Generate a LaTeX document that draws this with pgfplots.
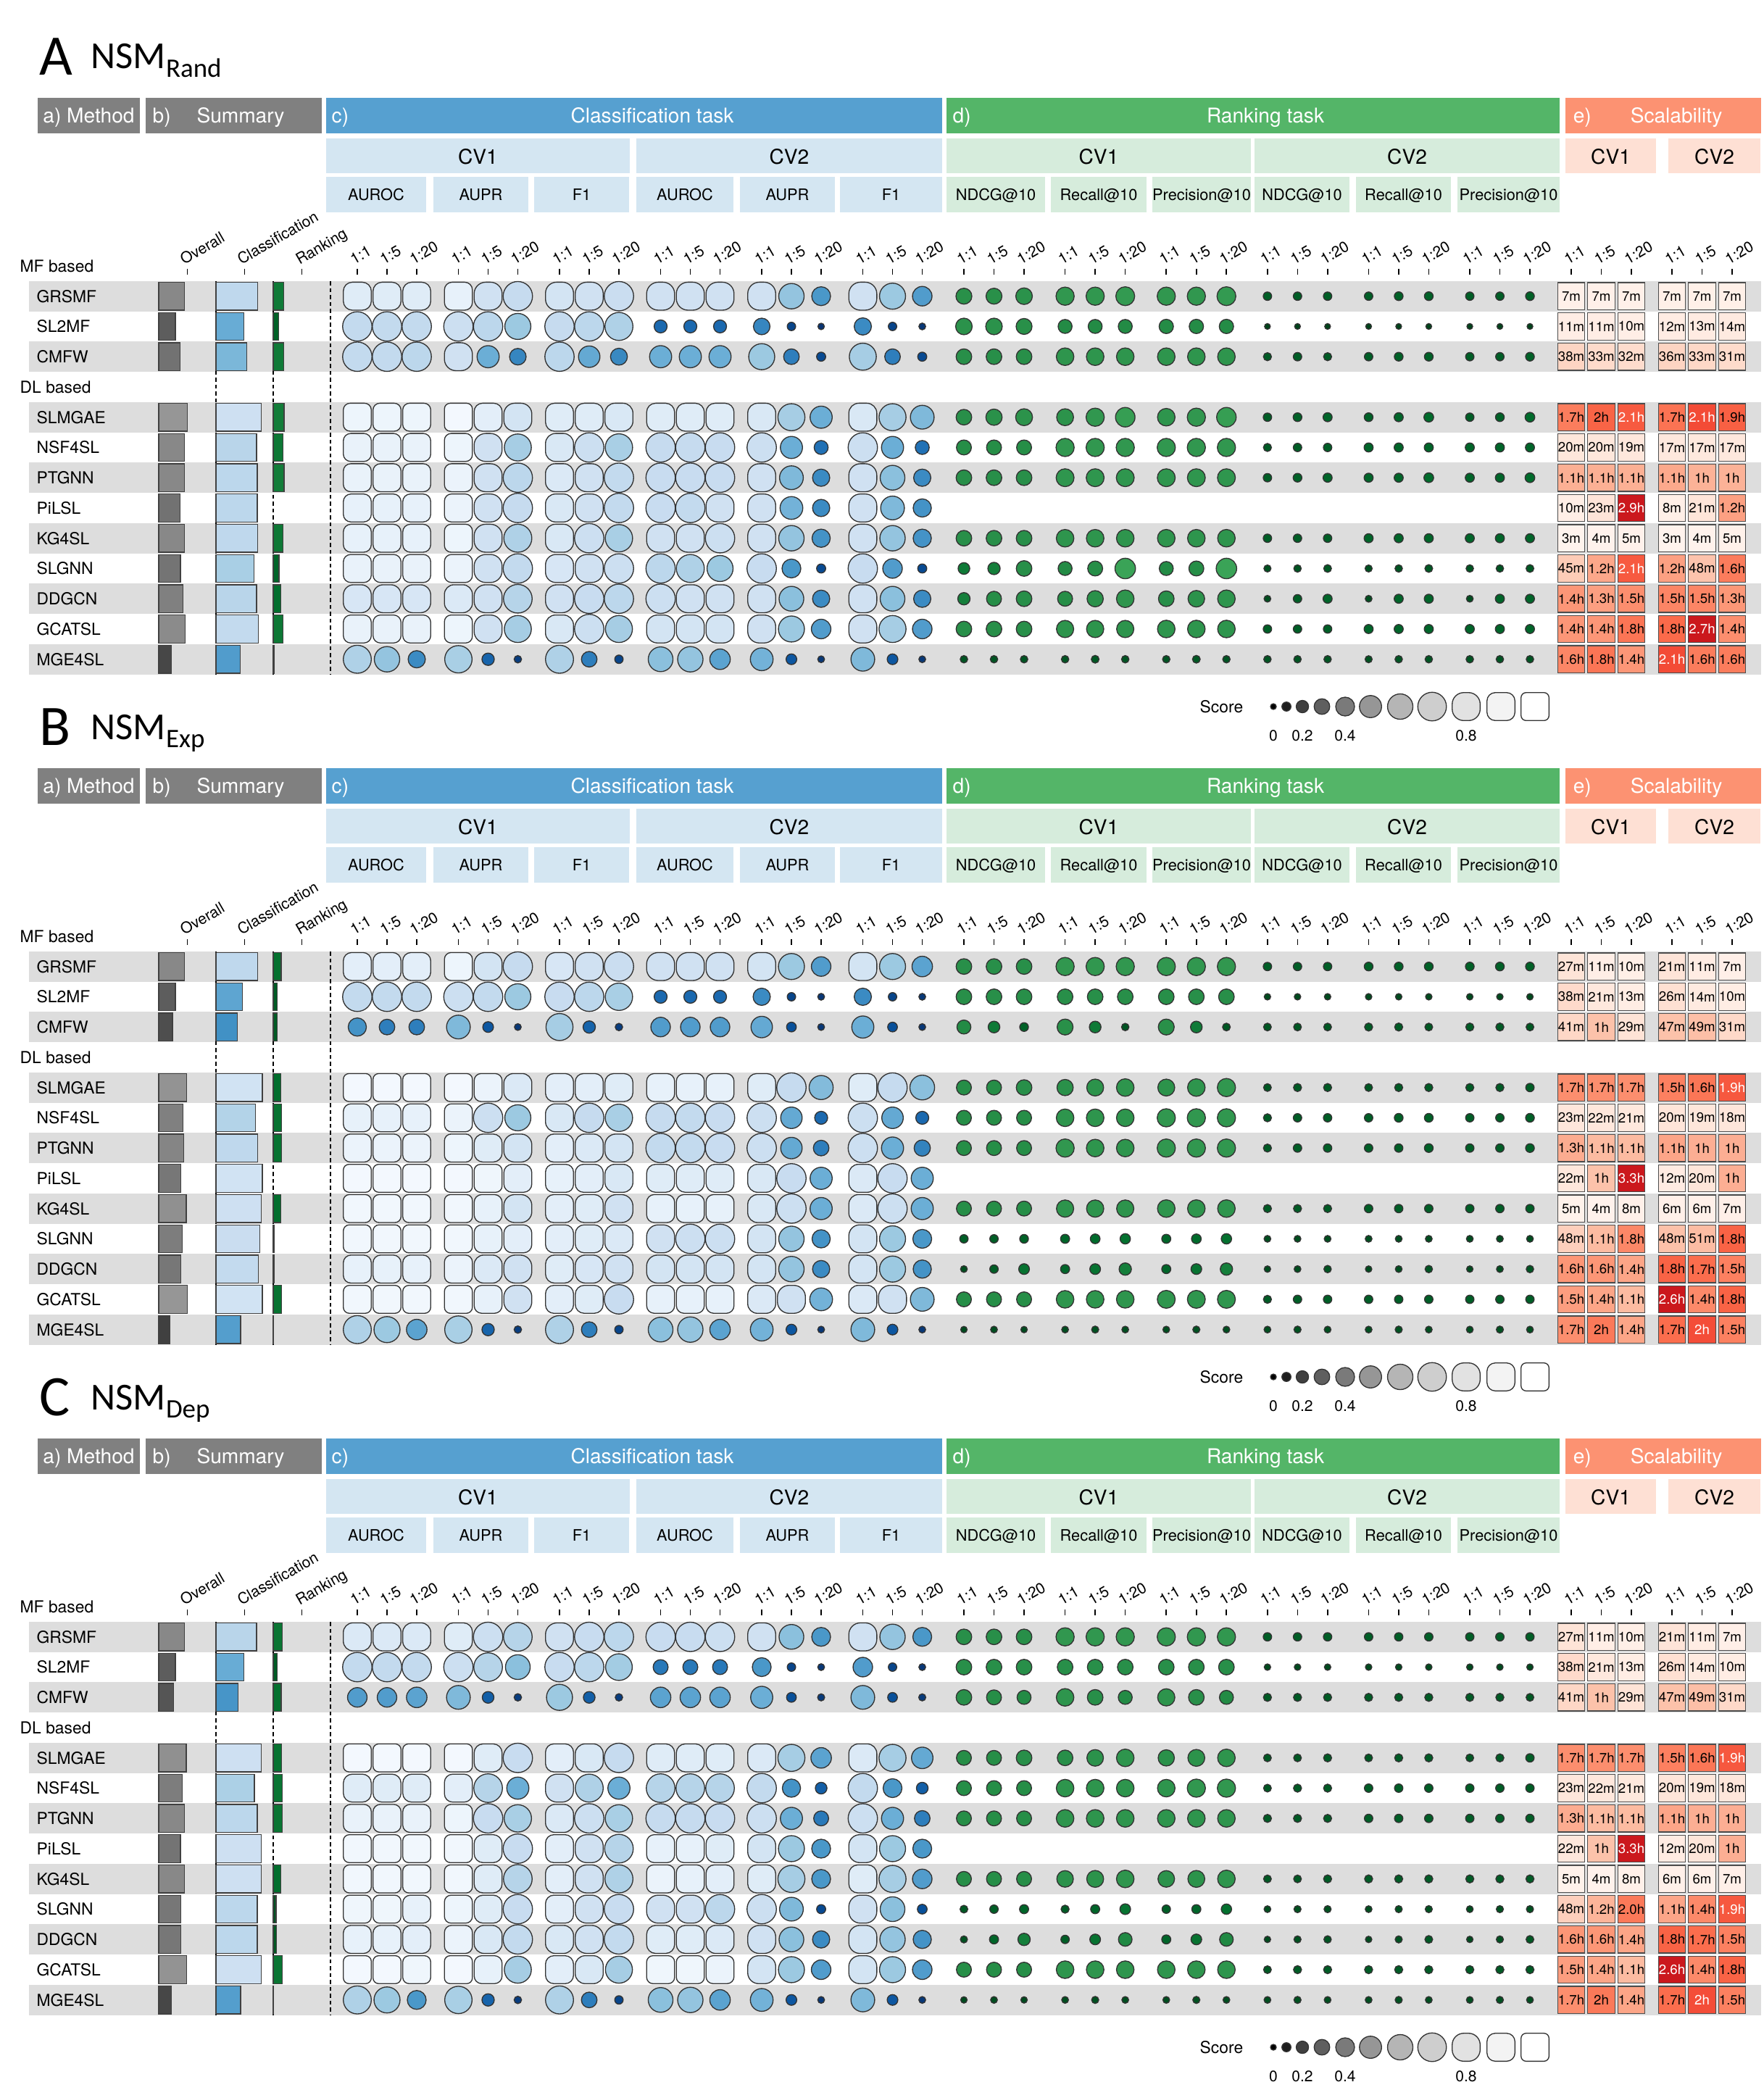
\documentclass[border=0pt]{standalone}
\usepackage{pgfplots}
\usepackage{pgfplotstable}
\pgfplotsset{compat=1.18}
\usepackage{fontspec}
\setmainfont{TeX Gyre Heros}
\newfontfamily\titlefont{Carlito}

\definecolor{hdgrey}{RGB}{128,128,128}
\definecolor{hdblue}{RGB}{86,160,208}
\definecolor{ltblue}{RGB}{212,230,242}
\definecolor{hdgreen}{RGB}{84,181,104}
\definecolor{ltgreen}{RGB}{214,236,220}
\definecolor{hdred}{RGB}{252,146,114}
\definecolor{ltred}{RGB}{254,224,212}
\definecolor{stripe}{RGB}{221,221,221}
\protected\def\W#1{\textcolor{white}{#1}}

\newcommand\hdfont{\fontsize{8}{9}\selectfont}
\newcommand\cvfont{\fontsize{8}{9}\selectfont}
\newcommand\metfont{\fontsize{6.2}{7}\selectfont}
\newcommand\rowfont{\fontsize{6.5}{7}\selectfont}
\newcommand\colfont{\fontsize{6}{7}\selectfont}

\tikzset{
  hd/.style={anchor=base,text=white,font=\hdfont,inner sep=0pt},
  cv/.style={anchor=base,font=\cvfont,inner sep=0pt},
  met/.style={anchor=base,font=\metfont,inner sep=0pt},
  rowlab/.style={anchor=base west,font=\rowfont,inner sep=0pt},
  collab/.style={rotate=30,anchor=base west,font=\colfont,inner sep=0pt},
  leglab/.style={anchor=base,font=\colfont,inner sep=0pt},
  tickl/.style={line width=0.45pt},
  dashl/.style={line width=0.55pt,dash pattern=on 0.55mm off 0.4mm},
}

\pgfplotsset{
  colormap={blues}{rgb255=(8,48,107) rgb255=(8,81,156) rgb255=(33,113,181) rgb255=(66,146,198) rgb255=(107,174,214) rgb255=(158,202,225) rgb255=(198,219,239) rgb255=(222,235,247) rgb255=(247,251,255)},
  colormap={greens}{rgb255=(0,68,27) rgb255=(0,109,44) rgb255=(35,139,69) rgb255=(48,150,78) rgb255=(65,171,93) rgb255=(116,196,118) rgb255=(161,217,155) rgb255=(199,233,192) rgb255=(247,252,245)},
  colormap={greys}{rgb255=(0,0,0) rgb255=(37,37,37) rgb255=(82,82,82) rgb255=(115,115,115) rgb255=(150,150,150) rgb255=(189,189,189) rgb255=(217,217,217) rgb255=(240,240,240) rgb255=(255,255,255)},
  colormap={reds}{rgb255=(255,245,240) rgb255=(254,224,210) rgb255=(252,187,161) rgb255=(252,146,114) rgb255=(251,106,74) rgb255=(239,59,44) rgb255=(203,24,29)},
}

% marks driven by the transformed point meta (0..1000 for score 0..1)
\pgfdeclareplotmark{funky}{%
  \ifdim\pgfplotspointmetatransformed pt<800pt
    \pgfmathsetlengthmacro\funkyr{min(40.5,8+0.045*\pgfplotspointmetatransformed)*0.05mm}%
    \pgfpathcircle{\pgfpointorigin}{\funkyr}%
    \pgfusepathqfillstroke
  \else
    \pgfmathsetlengthmacro\funkyc{max(6.5,16-0.045*(\pgfplotspointmetatransformed-800))*0.1mm}%
    \pgfpathmoveto{\pgfpoint{\funkyc-1.93mm}{-1.93mm}}%
    \pgfpathlineto{\pgfpoint{1.93mm-\funkyc}{-1.93mm}}%
    \pgfpatharc{-90}{0}{\funkyc}%
    \pgfpathlineto{\pgfpoint{1.93mm}{1.93mm-\funkyc}}%
    \pgfpatharc{0}{90}{\funkyc}%
    \pgfpathlineto{\pgfpoint{\funkyc-1.93mm}{1.93mm}}%
    \pgfpatharc{90}{180}{\funkyc}%
    \pgfpathlineto{\pgfpoint{-1.93mm}{\funkyc-1.93mm}}%
    \pgfpatharc{180}{270}{\funkyc}%
    \pgfpathclose
    \pgfusepathqfillstroke
  \fi}
\pgfdeclareplotmark{hbar}{%
  \pgfmathsetlengthmacro\funkyw{\pgfplotspointmetatransformed*0.0079mm}%
  \pgfpathrectangle{\pgfpoint{0mm}{-1.92mm}}{\pgfpoint{\funkyw}{3.84mm}}%
  \pgfusepathqfillstroke}

\pgfplotsset{
  funkyplot/.style={scatter,only marks,mark=funky,point meta=explicit,
    scatter/use mapped color={draw=black!80,fill=mapped color},line width=0.38pt},
  barplot/.style={scatter,only marks,mark=hbar,point meta=explicit,
    scatter/use mapped color={draw=black!75,fill=mapped color},line width=0.35pt},
  scalplot/.style={scatter,only marks,mark=square*,mark size=1.87mm,colormap name=reds,
    scatter/use mapped color={draw=black!70,fill=mapped color},line width=0.35pt},
  scallab/.style={only marks,mark=none,point meta=explicit symbolic,
    nodes near coords={\pgfplotspointmeta},nodes near coords align=center,
    every node near coord/.append style={font=\fontsize{5.3}{5.3}\selectfont,inner sep=0pt,text=black}},
  panelaxis/.style={x=0.1mm,y=0.1mm,y dir=reverse,xmin=0,xmax=2433,ymin=0,ymax=925,
    hide axis,clip=false,scale only axis,anchor=north west,point meta min=0,point meta max=1},
}

% ---------------- data ----------------
\pgfplotstableread{
x v
1757 0
1775 0.1
1797 0.2
1824 0.3
1856 0.4
1891 0.5
1932 0.6
1976 0.7
2023 0.8
2071 0.9
2118 1
}\legtab

% Panel A
\pgfplotstableread{
k ov cl c0 c1 c2 c3 c4 c5 c6 c7 c8 c9 c10 c11 c12 c13 c14 c15 c16 c17
0 0.45 0.73 0.88 0.88 0.88 0.92 0.80 0.75 0.82 0.80 0.77 0.80 0.80 0.80 0.80 0.60 0.40 0.80 0.62 0.42
1 0.29 0.49 0.74 0.74 0.74 0.78 0.72 0.62 0.75 0.72 0.68 0.22 0.22 0.22 0.33 0.08 0.02 0.35 0.08 0.03
2 0.37 0.54 0.74 0.74 0.72 0.80 0.50 0.33 0.72 0.48 0.34 0.50 0.50 0.50 0.62 0.30 0.10 0.65 0.30 0.10
4 0.50 0.79 0.95 0.95 0.95 0.98 0.90 0.82 0.88 0.88 0.85 0.88 0.88 0.88 0.85 0.65 0.50 0.85 0.65 0.55
5 0.45 0.71 0.93 0.93 0.93 0.95 0.80 0.65 0.85 0.78 0.66 0.75 0.75 0.76 0.78 0.50 0.25 0.78 0.50 0.25
6 0.45 0.72 0.93 0.93 0.93 0.94 0.80 0.72 0.86 0.80 0.74 0.76 0.76 0.76 0.80 0.55 0.35 0.80 0.58 0.35
7 0.37 0.72 0.92 0.92 0.92 0.94 0.80 0.75 0.85 0.80 0.74 0.76 0.74 0.80 0.80 0.52 0.35 0.80 0.55 0.38
8 0.45 0.73 0.92 0.92 0.92 0.95 0.80 0.68 0.85 0.78 0.66 0.80 0.80 0.78 0.80 0.60 0.38 0.80 0.60 0.38
9 0.38 0.66 0.93 0.93 0.93 0.94 0.80 0.74 0.84 0.80 0.78 0.72 0.68 0.62 0.76 0.40 0.10 0.76 0.42 0.10
10 0.42 0.71 0.84 0.84 0.84 0.86 0.80 0.70 0.80 0.76 0.72 0.78 0.80 0.80 0.80 0.58 0.35 0.80 0.58 0.35
11 0.46 0.74 0.93 0.93 0.93 0.95 0.80 0.65 0.85 0.78 0.65 0.82 0.82 0.82 0.80 0.62 0.42 0.80 0.65 0.42
12 0.22 0.42 0.68 0.60 0.35 0.66 0.20 0.05 0.68 0.30 0.08 0.58 0.60 0.45 0.52 0.15 0.03 0.55 0.15 0.03
}\clsA
\pgfplotstableread{
k rk r0 r1 r2 r3 r4 r5 r6 r7 r8 r9 r10 r11 r12 r13 r14 r15 r16 r17
0 0.18 0.31 0.31 0.33 0.38 0.38 0.40 0.38 0.38 0.40 0.08 0.08 0.08 0.08 0.09 0.09 0.08 0.08 0.09
1 0.09 0.33 0.33 0.31 0.25 0.25 0.25 0.26 0.26 0.26 0.00 0.00 0.00 0.00 0.00 0.00 0.00 0.00 0.00
2 0.18 0.30 0.30 0.30 0.36 0.36 0.36 0.36 0.36 0.36 0.07 0.08 0.07 0.08 0.09 0.09 0.08 0.08 0.09
4 0.19 0.30 0.32 0.34 0.34 0.38 0.42 0.36 0.38 0.42 0.08 0.09 0.10 0.09 0.10 0.12 0.08 0.09 0.12
5 0.17 0.28 0.28 0.28 0.38 0.38 0.38 0.38 0.38 0.38 0.07 0.08 0.08 0.10 0.10 0.10 0.10 0.10 0.10
6 0.19 0.30 0.30 0.30 0.37 0.37 0.37 0.37 0.37 0.37 0.08 0.09 0.10 0.10 0.10 0.12 0.10 0.10 0.12
8 0.17 0.30 0.30 0.30 0.36 0.36 0.36 0.36 0.36 0.36 0.08 0.08 0.08 0.10 0.10 0.10 0.10 0.10 0.10
9 0.10 0.18 0.20 0.30 0.25 0.28 0.45 0.25 0.28 0.45 0.04 0.05 0.06 0.04 0.05 0.06 0.05 0.05 0.06
10 0.13 0.20 0.28 0.30 0.28 0.32 0.36 0.30 0.33 0.36 0.03 0.08 0.10 0.03 0.10 0.10 0.03 0.10 0.10
11 0.17 0.30 0.30 0.30 0.35 0.35 0.35 0.36 0.36 0.36 0.08 0.08 0.08 0.10 0.10 0.10 0.10 0.10 0.10
12 0.02 0.05 0.05 0.05 0.05 0.06 0.05 0.05 0.06 0.05 0.05 0.05 0.05 0.04 0.05 0.05 0.05 0.05 0.05
}\rnkA
\pgfplotstableread{
k t0 t1 t2 t3 t4 t5 l0 l1 l2 l3 l4 l5
0 7 7 7 7 7 7 7m 7m 7m 7m 7m 7m
1 11 11 10 12 13 14 11m 11m 10m 12m 13m 14m
2 38 33 32 36 33 31 38m 33m 32m 36m 33m 31m
4 102 120 126 102 126 114 1.7h 2h \W{2.1h} 1.7h \W{2.1h} 1.9h
5 20 20 19 17 17 17 20m 20m 19m 17m 17m 17m
6 66 66 66 66 60 60 1.1h 1.1h 1.1h 1.1h 1h 1h
7 10 23 174 8 21 72 10m 23m \W{2.9h} 8m 21m 1.2h
8 3 4 5 3 4 5 3m 4m 5m 3m 4m 5m
9 45 72 126 72 48 96 45m 1.2h \W{2.1h} 1.2h 48m 1.6h
10 84 78 90 90 90 78 1.4h 1.3h 1.5h 1.5h 1.5h 1.3h
11 84 84 108 108 162 84 1.4h 1.4h 1.8h 1.8h \W{2.7h} 1.4h
12 96 108 84 126 96 96 1.6h 1.8h 1.4h \W{2.1h} 1.6h 1.6h
}\scaA

% Panel B
\pgfplotstableread{
k ov cl c0 c1 c2 c3 c4 c5 c6 c7 c8 c9 c10 c11 c12 c13 c14 c15 c16 c17
0 0.45 0.73 0.90 0.90 0.90 0.95 0.82 0.75 0.84 0.80 0.77 0.80 0.80 0.80 0.82 0.62 0.42 0.82 0.62 0.45
1 0.29 0.46 0.74 0.74 0.74 0.78 0.74 0.62 0.76 0.72 0.66 0.22 0.22 0.22 0.35 0.08 0.03 0.35 0.08 0.03
2 0.24 0.37 0.38 0.30 0.30 0.55 0.15 0.03 0.65 0.20 0.05 0.42 0.42 0.42 0.48 0.12 0.03 0.50 0.12 0.03
4 0.49 0.81 0.98 0.98 0.98 0.98 0.94 0.86 0.90 0.90 0.88 0.92 0.92 0.92 0.88 0.75 0.56 0.88 0.75 0.58
5 0.42 0.69 0.92 0.92 0.92 0.94 0.78 0.62 0.85 0.75 0.66 0.75 0.74 0.76 0.78 0.48 0.22 0.78 0.48 0.22
6 0.44 0.73 0.94 0.94 0.94 0.95 0.88 0.82 0.90 0.86 0.82 0.74 0.74 0.76 0.78 0.48 0.30 0.78 0.50 0.32
7 0.39 0.81 0.98 0.98 0.98 0.98 0.96 0.90 0.92 0.90 0.85 0.88 0.88 0.88 0.85 0.76 0.50 0.86 0.76 0.50
8 0.48 0.79 0.97 0.97 0.97 0.97 0.92 0.82 0.90 0.88 0.80 0.92 0.92 0.92 0.85 0.78 0.50 0.86 0.78 0.50
9 0.41 0.77 0.97 0.97 0.97 0.97 0.92 0.90 0.90 0.88 0.86 0.80 0.78 0.78 0.82 0.60 0.38 0.82 0.62 0.40
10 0.39 0.74 0.92 0.92 0.92 0.94 0.86 0.80 0.88 0.84 0.80 0.82 0.82 0.82 0.82 0.60 0.35 0.82 0.62 0.38
11 0.50 0.81 0.97 0.97 0.97 0.97 0.92 0.80 0.90 0.88 0.76 0.92 0.92 0.92 0.86 0.80 0.52 0.86 0.80 0.55
12 0.20 0.43 0.68 0.62 0.45 0.66 0.20 0.05 0.68 0.30 0.08 0.58 0.60 0.45 0.52 0.15 0.03 0.55 0.15 0.03
}\clsB
\pgfplotstableread{
k rk r0 r1 r2 r3 r4 r5 r6 r7 r8 r9 r10 r11 r12 r13 r14 r15 r16 r17
0 0.14 0.30 0.30 0.30 0.38 0.38 0.38 0.38 0.38 0.38 0.08 0.08 0.08 0.09 0.09 0.09 0.09 0.09 0.09
1 0.07 0.30 0.30 0.30 0.30 0.30 0.30 0.30 0.30 0.30 0.02 0.02 0.02 0.02 0.02 0.02 0.02 0.02 0.02
2 0.07 0.25 0.18 0.09 0.31 0.18 0.05 0.31 0.18 0.06 0.06 0.06 0.06 0.07 0.07 0.06 0.07 0.07 0.06
4 0.13 0.28 0.28 0.30 0.32 0.34 0.36 0.34 0.36 0.38 0.06 0.07 0.07 0.06 0.07 0.07 0.07 0.07 0.08
5 0.15 0.28 0.28 0.28 0.36 0.36 0.36 0.38 0.38 0.38 0.07 0.08 0.08 0.08 0.09 0.09 0.08 0.08 0.09
6 0.15 0.28 0.28 0.28 0.38 0.36 0.36 0.38 0.38 0.38 0.07 0.08 0.08 0.08 0.08 0.09 0.08 0.08 0.09
8 0.13 0.28 0.28 0.28 0.35 0.35 0.35 0.36 0.36 0.36 0.07 0.07 0.07 0.08 0.08 0.08 0.08 0.08 0.08
9 0.02 0.08 0.08 0.09 0.10 0.12 0.14 0.10 0.12 0.14 0.03 0.03 0.03 0.03 0.03 0.03 0.03 0.03 0.03
10 0.02 0.03 0.08 0.15 0.10 0.15 0.20 0.10 0.15 0.20 0.02 0.03 0.05 0.02 0.03 0.05 0.02 0.03 0.05
11 0.15 0.28 0.28 0.28 0.36 0.36 0.36 0.37 0.37 0.37 0.07 0.08 0.08 0.08 0.08 0.08 0.08 0.08 0.08
12 0.01 0.02 0.03 0.02 0.03 0.04 0.03 0.03 0.04 0.03 0.03 0.04 0.03 0.03 0.04 0.03 0.03 0.04 0.03
}\rnkB
\pgfplotstableread{
k t0 t1 t2 t3 t4 t5 l0 l1 l2 l3 l4 l5
0 27 11 10 21 11 7 27m 11m 10m 21m 11m 7m
1 38 21 13 26 14 10 38m 21m 13m 26m 14m 10m
2 41 60 29 47 49 31 41m 1h 29m 47m 49m 31m
4 102 102 102 90 96 114 1.7h 1.7h 1.7h 1.5h 1.6h \W{1.9h}
5 23 22 21 20 19 18 23m 22m 21m 20m 19m 18m
6 78 66 66 66 60 60 1.3h 1.1h 1.1h 1.1h 1h 1h
7 22 60 198 12 20 60 22m 1h \W{3.3h} 12m 20m 1h
8 5 4 8 6 6 7 5m 4m 8m 6m 6m 7m
9 48 66 108 48 51 108 48m 1.1h 1.8h 48m 51m 1.8h
10 96 96 84 108 102 90 1.6h 1.6h 1.4h 1.8h 1.7h 1.5h
11 90 84 66 156 84 108 1.5h 1.4h 1.1h \W{2.6h} 1.4h 1.8h
12 102 120 84 102 120 90 1.7h 2h 1.4h 1.7h \W{2h} 1.5h
}\scaB

% Panel C
\pgfplotstableread{
k ov cl c0 c1 c2 c3 c4 c5 c6 c7 c8 c9 c10 c11 c12 c13 c14 c15 c16 c17
0 0.45 0.71 0.86 0.86 0.86 0.88 0.78 0.70 0.80 0.76 0.72 0.76 0.76 0.78 0.80 0.58 0.40 0.80 0.60 0.40
1 0.29 0.49 0.74 0.74 0.74 0.78 0.70 0.58 0.76 0.72 0.64 0.28 0.28 0.28 0.40 0.08 0.03 0.42 0.08 0.03
2 0.26 0.39 0.42 0.42 0.45 0.55 0.18 0.05 0.62 0.18 0.05 0.45 0.45 0.45 0.50 0.12 0.04 0.55 0.12 0.04
4 0.48 0.79 0.98 0.98 0.98 0.98 0.88 0.76 0.90 0.85 0.75 0.88 0.88 0.88 0.86 0.65 0.45 0.86 0.65 0.48
5 0.41 0.67 0.88 0.88 0.88 0.90 0.70 0.50 0.80 0.68 0.50 0.70 0.70 0.70 0.74 0.38 0.18 0.74 0.40 0.18
6 0.45 0.72 0.93 0.93 0.93 0.95 0.76 0.66 0.86 0.78 0.66 0.75 0.75 0.76 0.78 0.50 0.28 0.78 0.50 0.30
7 0.38 0.79 0.97 0.97 0.97 0.97 0.88 0.76 0.90 0.80 0.70 0.92 0.92 0.88 0.82 0.62 0.40 0.82 0.62 0.40
8 0.45 0.79 0.97 0.97 0.97 0.97 0.88 0.70 0.90 0.80 0.68 0.94 0.92 0.90 0.88 0.65 0.40 0.88 0.65 0.42
9 0.39 0.72 0.96 0.96 0.92 0.95 0.88 0.76 0.90 0.80 0.76 0.80 0.80 0.72 0.78 0.55 0.10 0.80 0.58 0.12
10 0.39 0.72 0.92 0.92 0.90 0.94 0.85 0.74 0.85 0.80 0.74 0.88 0.88 0.86 0.80 0.58 0.35 0.82 0.60 0.38
11 0.49 0.79 0.98 0.98 0.96 0.98 0.92 0.65 0.90 0.85 0.65 0.96 0.96 0.94 0.82 0.62 0.42 0.82 0.62 0.42
12 0.22 0.43 0.68 0.62 0.40 0.66 0.20 0.05 0.68 0.30 0.08 0.58 0.60 0.45 0.52 0.15 0.03 0.55 0.15 0.03
}\clsC
\pgfplotstableread{
k rk r0 r1 r2 r3 r4 r5 r6 r7 r8 r9 r10 r11 r12 r13 r14 r15 r16 r17
0 0.16 0.30 0.30 0.30 0.38 0.38 0.38 0.38 0.38 0.38 0.08 0.08 0.08 0.08 0.08 0.08 0.08 0.08 0.08
1 0.07 0.30 0.30 0.30 0.30 0.30 0.30 0.30 0.30 0.30 0.02 0.02 0.02 0.02 0.02 0.02 0.02 0.02 0.02
2 0.14 0.30 0.28 0.25 0.36 0.30 0.25 0.35 0.30 0.25 0.07 0.07 0.07 0.07 0.07 0.07 0.07 0.07 0.06
4 0.15 0.28 0.28 0.30 0.30 0.33 0.36 0.32 0.34 0.36 0.06 0.06 0.07 0.06 0.07 0.07 0.06 0.07 0.08
5 0.16 0.28 0.28 0.28 0.36 0.36 0.36 0.36 0.38 0.38 0.06 0.07 0.07 0.08 0.08 0.08 0.08 0.08 0.08
6 0.16 0.28 0.28 0.28 0.36 0.36 0.36 0.36 0.36 0.36 0.07 0.07 0.07 0.08 0.08 0.08 0.08 0.08 0.08
8 0.13 0.28 0.28 0.28 0.33 0.34 0.36 0.33 0.34 0.36 0.06 0.06 0.07 0.07 0.07 0.07 0.07 0.07 0.07
9 0.05 0.06 0.08 0.10 0.07 0.10 0.15 0.08 0.10 0.14 0.03 0.04 0.04 0.03 0.04 0.04 0.03 0.04 0.04
10 0.06 0.04 0.10 0.20 0.08 0.15 0.24 0.10 0.15 0.24 0.02 0.04 0.05 0.02 0.04 0.06 0.02 0.04 0.06
11 0.16 0.28 0.28 0.28 0.36 0.36 0.36 0.36 0.36 0.36 0.06 0.07 0.07 0.07 0.07 0.07 0.07 0.07 0.07
12 0.01 0.02 0.03 0.02 0.03 0.04 0.03 0.03 0.04 0.03 0.03 0.04 0.03 0.03 0.04 0.03 0.03 0.04 0.03
}\rnkC
\pgfplotstableread{
k t0 t1 t2 t3 t4 t5 l0 l1 l2 l3 l4 l5
0 27 11 10 21 11 7 27m 11m 10m 21m 11m 7m
1 38 21 13 26 14 10 38m 21m 13m 26m 14m 10m
2 41 60 29 47 49 31 41m 1h 29m 47m 49m 31m
4 102 102 102 90 96 114 1.7h 1.7h 1.7h 1.5h 1.6h \W{1.9h}
5 23 22 21 20 19 18 23m 22m 21m 20m 19m 18m
6 78 66 66 66 60 60 1.3h 1.1h 1.1h 1.1h 1h 1h
7 22 60 198 12 20 60 22m 1h \W{3.3h} 12m 20m 1h
8 5 4 8 6 6 7 5m 4m 8m 6m 6m 7m
9 48 72 120 66 84 114 48m 1.2h 2.0h 1.1h 1.4h \W{1.9h}
10 96 96 84 108 102 90 1.6h 1.6h 1.4h 1.8h 1.7h 1.5h
11 90 84 66 156 84 108 1.5h 1.4h 1.1h \W{2.6h} 1.4h 1.8h
12 102 120 84 102 120 90 1.7h 2h 1.4h 1.7h \W{2h} 1.5h
}\scaC

% ---------------- drawing macros ----------------
\newcommand\colgroup[2]{%
  \draw[tickl] (axis cs:{#1},371) -- (axis cs:{#1},378.5);
  \draw[tickl] (axis cs:{#1+#2},371) -- (axis cs:{#1+#2},378.5);
  \draw[tickl] (axis cs:{#1+2*#2},371) -- (axis cs:{#1+2*#2},378.5);
  \node[collab] at (axis cs:{#1-5},366) {1:1};
  \node[collab] at (axis cs:{#1+#2-5},366) {1:5};
  \node[collab] at (axis cs:{#1+2*#2-5},366) {1:20};
}

\newcommand\panelcontent[7]{%
  \pgfplotsinvokeforeach{0,2,4,6,8,10,12}{%
    \fill[stripe] (axis cs:40,{387.8+41.75*##1}) rectangle (axis cs:2430,{429.6+41.75*##1});
  }
  \node[anchor=base west,inner sep=0pt,font=\titlefont\fontsize{22.5}{24}\selectfont] at (axis cs:54,103) {#1};
  \node[anchor=base west,inner sep=0pt,font=\titlefont\fontsize{15}{16}\selectfont] at (axis cs:125,95) {NSM\raisebox{-3.4pt}{\fontsize{10.5}{11}\selectfont #2}};
  % header row 1
  \fill[hdgrey] (axis cs:52,135) rectangle (axis cs:193,184);
  \node[hd] at (axis cs:122.5,169.5) {a) Method};
  \fill[hdgrey] (axis cs:201,135) rectangle (axis cs:444,184);
  \node[hd,anchor=base west] at (axis cs:210,169.5) {b)};
  \node[hd] at (axis cs:332,169.5) {Summary};
  \fill[hdblue] (axis cs:450,135) rectangle (axis cs:1300,184);
  \node[hd,anchor=base west] at (axis cs:457,169.5) {c)};
  \node[hd] at (axis cs:900,169.5) {Classification task};
  \fill[hdgreen] (axis cs:1306,135) rectangle (axis cs:2152,184);
  \node[hd,anchor=base west] at (axis cs:1314,169.5) {d)};
  \node[hd] at (axis cs:1746,169.5) {Ranking task};
  \fill[hdred] (axis cs:2160,135) rectangle (axis cs:2430,184);
  \node[hd,anchor=base west] at (axis cs:2170,169.5) {e)};
  \node[hd] at (axis cs:2313,169.5) {Scalability};
  % header row 2
  \fill[ltblue] (axis cs:450,191) rectangle (axis cs:869,239);
  \node[cv] at (axis cs:659.5,226) {CV1};
  \fill[ltblue] (axis cs:878,191) rectangle (axis cs:1300,239);
  \node[cv] at (axis cs:1089,226) {CV2};
  \fill[ltgreen] (axis cs:1306,191) rectangle (axis cs:1726,239);
  \node[cv] at (axis cs:1516,226) {CV1};
  \fill[ltgreen] (axis cs:1731,191) rectangle (axis cs:2152,239);
  \node[cv] at (axis cs:1941.5,226) {CV2};
  \fill[ltred] (axis cs:2160,191) rectangle (axis cs:2285,239);
  \node[cv] at (axis cs:2222.5,226) {CV1};
  \fill[ltred] (axis cs:2302,191) rectangle (axis cs:2429,239);
  \node[cv] at (axis cs:2365.5,226) {CV2};
  % header row 3
  \fill[ltblue] (axis cs:450,244) rectangle (axis cs:588,293);
  \node[met] at (axis cs:519,276.5) {AUROC};
  \fill[ltblue] (axis cs:598,244) rectangle (axis cs:729,293);
  \node[met] at (axis cs:663.5,276.5) {AUPR};
  \fill[ltblue] (axis cs:737,244) rectangle (axis cs:868,293);
  \node[met] at (axis cs:802.5,276.5) {F1};
  \fill[ltblue] (axis cs:878,244) rectangle (axis cs:1012,293);
  \node[met] at (axis cs:945,276.5) {AUROC};
  \fill[ltblue] (axis cs:1021,244) rectangle (axis cs:1152,293);
  \node[met] at (axis cs:1086.5,276.5) {AUPR};
  \fill[ltblue] (axis cs:1159,244) rectangle (axis cs:1300,293);
  \node[met] at (axis cs:1229.5,276.5) {F1};
  \fill[ltgreen] (axis cs:1306,244) rectangle (axis cs:1442,293);
  \node[met] at (axis cs:1374,276.5) {NDCG@10};
  \fill[ltgreen] (axis cs:1450,244) rectangle (axis cs:1582,293);
  \node[met] at (axis cs:1516,276.5) {Recall@10};
  \fill[ltgreen] (axis cs:1590,244) rectangle (axis cs:1726,293);
  \node[met] at (axis cs:1658,276.5) {Precision@10};
  \fill[ltgreen] (axis cs:1731,244) rectangle (axis cs:1862,293);
  \node[met] at (axis cs:1796.5,276.5) {NDCG@10};
  \fill[ltgreen] (axis cs:1871,244) rectangle (axis cs:2002,293);
  \node[met] at (axis cs:1936.5,276.5) {Recall@10};
  \fill[ltgreen] (axis cs:2011,244) rectangle (axis cs:2152,293);
  \node[met] at (axis cs:2081.5,276.5) {Precision@10};
  % row labels
  \node[rowlab] at (axis cs:27,375) {MF based};
  \node[rowlab] at (axis cs:27,542) {DL based};
  \node[rowlab] at (axis cs:50,{417+41.75*0}) {GRSMF};
  \node[rowlab] at (axis cs:50,{417+41.75*1}) {SL2MF};
  \node[rowlab] at (axis cs:50,{417+41.75*2}) {CMFW};
  \node[rowlab] at (axis cs:50,{417+41.75*4}) {SLMGAE};
  \node[rowlab] at (axis cs:50,{417+41.75*5}) {NSF4SL};
  \node[rowlab] at (axis cs:50,{417+41.75*6}) {PTGNN};
  \node[rowlab] at (axis cs:50,{417+41.75*7}) {PiLSL};
  \node[rowlab] at (axis cs:50,{417+41.75*8}) {KG4SL};
  \node[rowlab] at (axis cs:50,{417+41.75*9}) {SLGNN};
  \node[rowlab] at (axis cs:50,{417+41.75*10}) {DDGCN};
  \node[rowlab] at (axis cs:50,{417+41.75*11}) {GCATSL};
  \node[rowlab] at (axis cs:50,{417+41.75*12}) {MGE4SL};
  % column ticks and labels
  \draw[tickl] (axis cs:258.5,371) -- (axis cs:258.5,378.5);
  \draw[tickl] (axis cs:337.5,371) -- (axis cs:337.5,378.5);
  \draw[tickl] (axis cs:416.5,371) -- (axis cs:416.5,378.5);
  \node[collab] at (axis cs:253.5,366) {Overall};
  \node[collab] at (axis cs:332.5,366) {Classification};
  \node[collab] at (axis cs:413,366) {Ranking};
  \pgfplotsinvokeforeach{0,...,5}{%
    \colgroup{493+139.5*##1}{41}%
    \colgroup{1330+139.6*##1}{41.5}%
  }
  \colgroup{2168}{41.5}%
  \colgroup{2307}{41.5}%
  % summary bars
  \addplot[barplot,colormap name=greys]
    table[x expr=219,y expr={408.7+41.75*\thisrow{k}},meta=ov]{#3};
  \addplot[barplot,colormap name=blues]
    table[x expr=298,y expr={408.7+41.75*\thisrow{k}},meta=cl]{#3};
  \addplot[barplot,colormap name=greens]
    table[x expr=377,y expr={408.7+41.75*\thisrow{k}},meta=rk]{#4};
  \draw[dashl] (axis cs:298,388) -- (axis cs:298,931);
  \draw[dashl] (axis cs:377,388) -- (axis cs:377,931);
  \draw[dashl] (axis cs:456,388) -- (axis cs:456,931);
  % classification
  \pgfplotsinvokeforeach{0,...,17}{%
    \addplot[funkyplot,colormap name=blues]
      table[x expr={493+41*##1+16.5*floor((##1+0.5)/3)},y expr={408.7+41.75*\thisrow{k}},meta=c##1]{#3};
  }
  % ranking
  \pgfplotsinvokeforeach{0,...,17}{%
    \addplot[funkyplot,colormap name=greens]
      table[x expr={1330+41.5*##1+15.1*floor((##1+0.5)/3)},y expr={408.7+41.75*\thisrow{k}},meta=r##1]{#4};
  }
  % scalability boxes and labels
  \pgfplotsinvokeforeach{0,1,2}{%
    \addplot[scalplot,point meta={\thisrow{t##1}/#6}]
      table[x expr={2168+41.5*##1},y expr={408.7+41.75*\thisrow{k}}]{#5};
    \addplot[scallab]
      table[x expr={2168+41.5*##1},y expr={408.7+41.75*\thisrow{k}},meta=l##1]{#5};
  }
  \pgfplotsinvokeforeach{3,4,5}{%
    \addplot[scalplot,point meta={\thisrow{t##1}/#7}]
      table[x expr={2307+41.5*(##1-3)},y expr={408.7+41.75*\thisrow{k}}]{#5};
    \addplot[scallab]
      table[x expr={2307+41.5*(##1-3)},y expr={408.7+41.75*\thisrow{k}},meta=l##1]{#5};
  }
  % legend
  \node[rowlab] at (axis cs:1655,983) {Score};
  \addplot[funkyplot,colormap name=greys]
    table[x=x,y expr=975,meta=v]{\legtab};
  \node[leglab] at (axis cs:1757,1022) {0};
  \node[leglab] at (axis cs:1797,1022) {0.2};
  \node[leglab] at (axis cs:1856,1022) {0.4};
  \node[leglab] at (axis cs:2023,1022) {0.8};
}

\begin{document}
\begin{tikzpicture}
\begin{axis}[panelaxis,at={(0mm,0mm)}]
  \panelcontent{A}{Rand}{\clsA}{\rnkA}{\scaA}{174}{162}
\end{axis}
\begin{axis}[panelaxis,at={(0mm,-92.5mm)}]
  \panelcontent{B}{Exp}{\clsB}{\rnkB}{\scaB}{198}{156}
\end{axis}
\begin{axis}[panelaxis,at={(0mm,-185mm)}]
  \panelcontent{C}{Dep}{\clsC}{\rnkC}{\scaC}{198}{156}
\end{axis}
\pgfresetboundingbox
\path (0mm,0mm) rectangle (243.3mm,-287.3mm);
\end{tikzpicture}
\end{document}
